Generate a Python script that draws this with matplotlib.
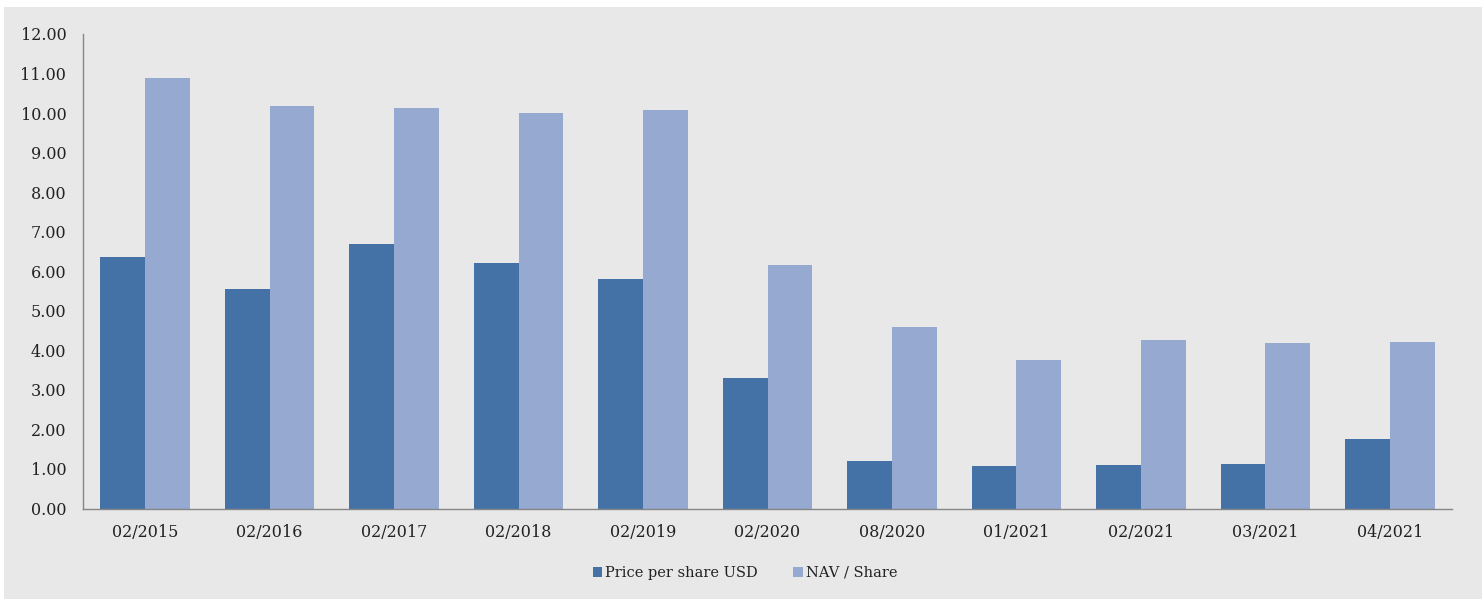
import numpy as np
import matplotlib
matplotlib.use("Agg")
from matplotlib import pyplot as plt
from matplotlib.patches import Rectangle

dates = ["02/2015", "02/2016", "02/2017", "02/2018", "02/2019", "02/2020",
         "08/2020", "01/2021", "02/2021", "03/2021", "04/2021"]
price_usd = [6.35, 5.55, 6.70, 6.22, 5.80, 3.30, 1.20, 1.08, 1.10, 1.12, 1.76]
nav_share = [10.88, 10.17, 10.14, 10.00, 10.07, 6.15, 4.60, 3.75, 4.26, 4.19, 4.20]
yticks = np.arange(0, 13, 1)

plt.rcParams['font.family'] = ['DejaVu Serif']

W, H = 1482, 599
fig = plt.figure(figsize=(W / 100, H / 100), dpi=100)
fig.patch.set_facecolor('white')
# grey chart area, small white margin at top/left
fig.patches.append(Rectangle((4 / W, 0), 1 - 4 / W, 1 - 7 / H, transform=fig.transFigure,
                             facecolor='#e8e8e8', edgecolor='none', zorder=-10))

ax = fig.add_axes([83 / W, 1 - 508.5 / H, (1452 - 83) / W, (508.5 - 34) / H])
ax.set_facecolor('none')

x = np.arange(len(dates))
w = 0.36
ax.bar(x - w / 2, price_usd, w, color='#4472a7', label='Price per share USD')
ax.bar(x + w / 2, nav_share, w, color='#95a9d1', label='NAV / Share')

ax.set_xlim(-0.5, len(dates) - 0.5)
ax.set_ylim(0, 12)
ax.set_yticks(yticks)
ax.set_yticklabels([f"{v:.2f}" for v in yticks])
ax.set_xticks(x)
ax.set_xticklabels(dates)
ax.tick_params(axis='both', length=0, labelsize=11.5, colors='#222222')
ax.tick_params(axis='y', pad=12)
ax.tick_params(axis='x', pad=11)

for s in ['top', 'right']:
    ax.spines[s].set_visible(False)
for s in ['left', 'bottom']:
    ax.spines[s].set_color('#868686')
    ax.spines[s].set_linewidth(1.0)

fig.legend(loc='center', bbox_to_anchor=(745 / W, 1 - 573 / H), ncol=2, frameon=False,
           fontsize=10.5, handlelength=0.65, handleheight=0.65, handletextpad=0.2,
           columnspacing=2.4, labelcolor='#222222')

fig.savefig('out.png', dpi=100)
